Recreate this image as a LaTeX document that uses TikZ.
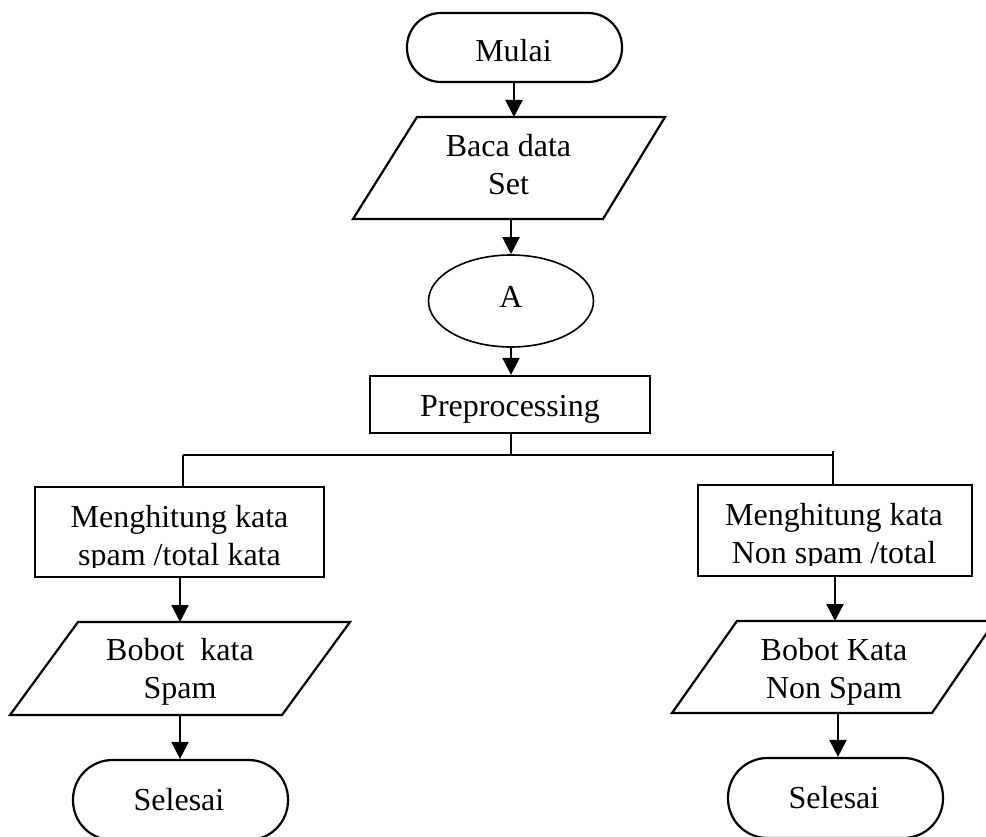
\documentclass[tikz,border=0pt]{standalone}
\usepackage{fontspec}
\setmainfont{Liberation Serif}
\usetikzlibrary{arrows.meta,shapes.geometric}
\begin{document}
\begin{tikzpicture}[x=1pt,y=-1pt,
  every node/.style={font=\fontsize{32}{38}\selectfont, align=center, inner sep=0pt},
  term/.style={draw, line width=2.2pt, rectangle, minimum width=215pt, minimum height=#1, rounded corners=0.5*#1-0.5pt},
  procbox/.style={draw, line width=2.2pt, rectangle},
  conn/.style={draw, line width=1.6pt, ellipse, minimum width=165pt, minimum height=92pt},
  io/.style={draw, line width=2.2pt, line join=miter},
  flow/.style={line width=2.2pt, -{Triangle[width=17pt,length=17pt]}},
  thin/.style={line width=1.4pt}]
\clip (0,0) rectangle (986,837);
\fill[white] (0,0) rectangle (986,837);

% start
\node[term=69pt] (mulai) at (514.5,47.5) {};
\node[anchor=base] (mulaiT) at (513.5,61.7) {Mulai};

% input data set
\draw[io] (417,117) -- (665,117) -- (603,219) -- (353,219) -- cycle;
\coordinate (bacaT) at (514,117);
\coordinate (bacaB) at (511,219);
\node (baca) at (508.5,165) {Baca data\\Set};

% connector A
\node[conn] (A) at (511,301) {};
\node[anchor=base] (AT) at (511,307.7) {A};

% preprocessing
\node[procbox, minimum width=280pt, minimum height=57pt] (pre) at (510,404.5) {};
\node[anchor=base] (preT) at (510,416.7) {Preprocessing};

% branch bus
\coordinate (bus) at (511,455);
\coordinate (busL) at (183,455);
\coordinate (busR) at (833,455);
\coordinate (busRt) at (833,451);

% left branch
\node[procbox, minimum width=289pt, minimum height=90pt] (hitL) at (179.5,532) {};
\begin{scope}
\clip (hitL.north west) rectangle ([yshift=11pt]hitL.south east);
\node (hitLT) at (179.5,538.6) {Menghitung kata\\spam /total kata};
\end{scope}
\draw[io] (78,622) -- (350,622) -- (282,715) -- (10,715) -- cycle;
\coordinate (bobLT) at (180,622);
\coordinate (bobLB) at (180,715);
\node (bobL) at (180,671.6) {Bobot\ \ kata\\Spam};
\node[term=80pt] (selL) at (180.5,800) {};
\node[anchor=base] (selLT) at (179,810) {Selesai};

% right branch
\node[procbox, minimum width=274pt, minimum height=91pt] (hitR) at (835,530.5) {};
\begin{scope}
\clip (hitR.north west) rectangle ([yshift=12pt]hitR.south east);
\node (hitRT) at (834,536.6) {Menghitung kata\\Non spam /total};
\end{scope}
\draw[io] (737,621) -- (995,621) -- (932,713) -- (672,713) -- cycle;
\coordinate (bobRT) at (835,621);
\coordinate (bobRB) at (838,713);
\node (bobR) at (834,671.6) {Bobot Kata\\Non Spam};
\node[term=80pt] (selR) at (835.5,798) {};
\node[anchor=base] (selRT) at (834,808) {Selesai};

% flow arrows
\draw[flow] (mulai.south -| bacaT) -- (bacaT);
\draw[flow] (bacaB) -- (A.north);
\draw[flow] (A.south) -- (pre.north -| A.south);
\draw[thin] (pre.south -| bus) -- (bus);
\draw[thin] (busL) -- (busR);
\draw[thin] (busL) -- (busL |- hitL.north);
\draw[thin] (busRt) -- (busR |- hitR.north);
\draw[flow] (hitL.south -| bobLT) -- (bobLT);
\draw[flow] (bobLB) -- (selL.north -| bobLB);
\draw[flow] (hitR.south -| bobRT) -- (bobRT);
\draw[flow] (bobRB) -- (selR.north -| bobRB);
\end{tikzpicture}
\end{document}
